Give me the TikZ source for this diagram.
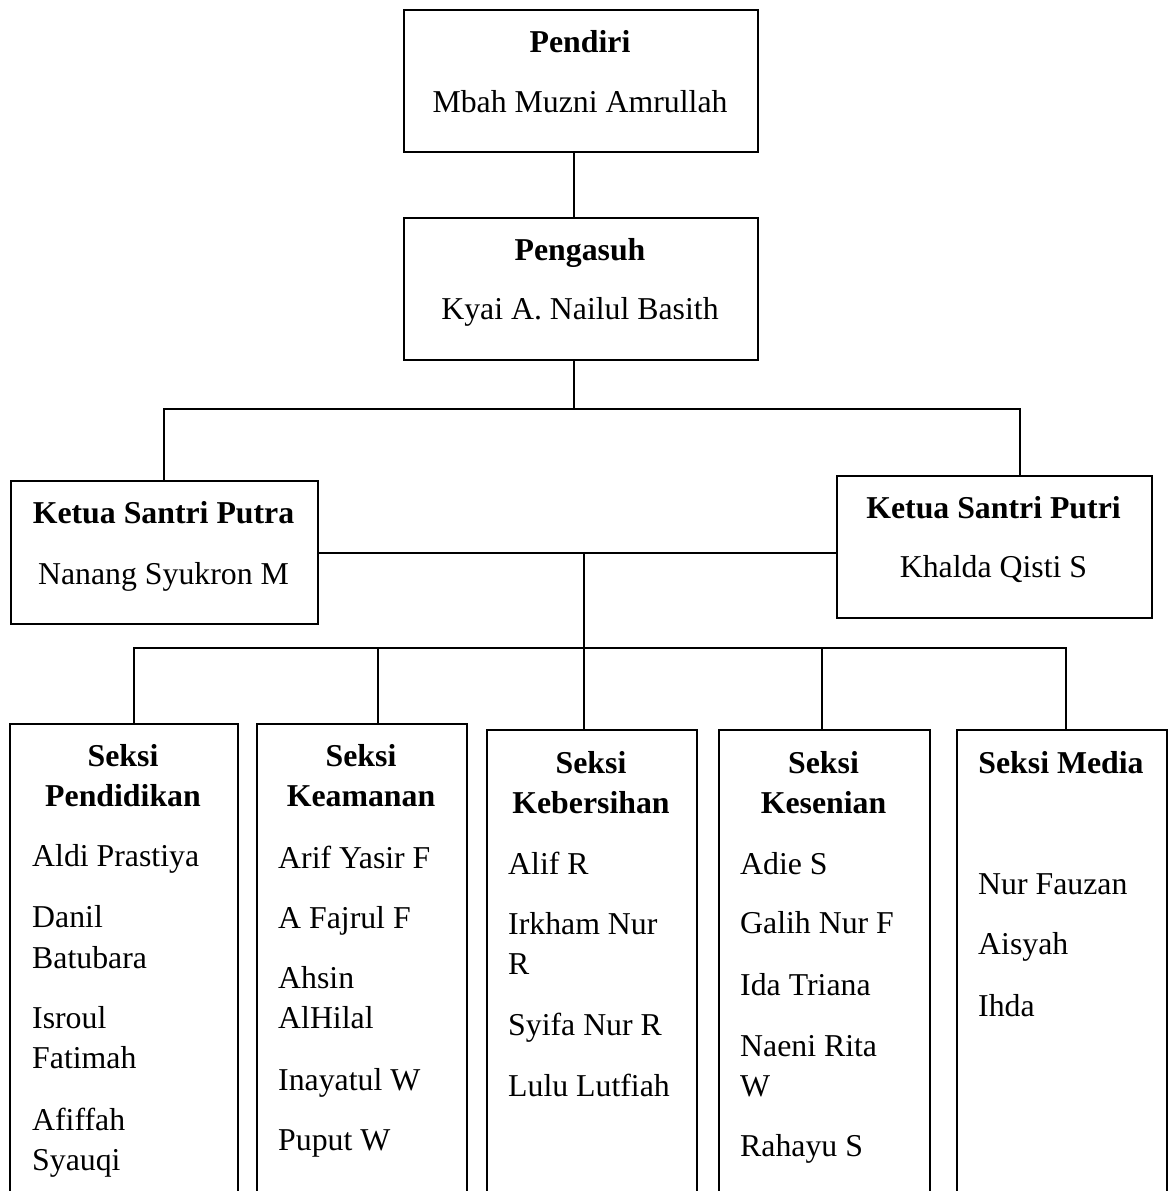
\documentclass[tikz,border=0pt]{standalone}
\usepackage{fontspec}
\setmainfont{Liberation Serif}
\begin{document}
\begin{tikzpicture}[x=1pt,y=-1pt]
\tikzset{
  box/.style={draw, line width=2.2pt, inner sep=0pt, anchor=north west},
  conn/.style={line width=1.1pt},
  ttl/.style={font=\fontsize{31.8}{38}\selectfont\bfseries, anchor=base, inner sep=0pt, yshift=-3pt},
  nmc/.style={font=\fontsize{31.8}{38}\selectfont, anchor=base, inner sep=0pt, yshift=-2pt},
  nm/.style={font=\fontsize{31.8}{38}\selectfont, anchor=base west, inner sep=0pt, yshift=-3pt}
}
\useasboundingbox (0,0) rectangle (1168,1191);
\clip (0,0) rectangle (1168,1191);

% boxes
\node[box, minimum width=354pt, minimum height=142pt] (pendiri) at (403,9) {};
\node[box, minimum width=354pt, minimum height=142pt] (pengasuh) at (403,217) {};
\node[box, minimum width=307pt, minimum height=143pt] (putra) at (10,480) {};
\node[box, minimum width=315pt, minimum height=142pt] (putri) at (836,475) {};
\node[box, minimum width=228pt, minimum height=520pt] (b1) at (9,723) {};
\node[box, minimum width=210pt, minimum height=520pt] (b2) at (256,723) {};
\node[box, minimum width=210pt, minimum height=520pt] (b3) at (486,729) {};
\node[box, minimum width=211pt, minimum height=520pt] (b4) at (718,729) {};
\node[box, minimum width=210pt, minimum height=520pt] (b5) at (956,729) {};

% junctions
\coordinate (j0) at (574,409);
\coordinate (jl) at (164,409);
\coordinate (jr) at (1020,409);
\coordinate (m) at (584,553);
\coordinate (l1) at (134,648);
\coordinate (l2) at (378,648);
\coordinate (l3) at (584,648);
\coordinate (l4) at (822,648);
\coordinate (l5) at (1066,648);

% connectors
\draw[conn] (j0 |- pendiri.south) -- (j0 |- pengasuh.north);
\draw[conn] (j0 |- pengasuh.south) -- (j0);
\draw[conn] (jl |- putra.north) -- (jl) -- (jr) -- (jr |- putri.north);
\draw[conn] (putra.east |- m) -- (putri.west |- m);
\draw[conn] (m) -- (m |- b3.north);
\draw[conn] (l1 |- b1.north) -- (l1) -- (l5) -- (l5 |- b5.north);
\draw[conn] (l2) -- (l2 |- b2.north);
\draw[conn] (l4) -- (l4 |- b4.north);

% top texts
\node[ttl] (t-pendiri) at (580,49) {Pendiri};
\node[nmc] (n-pendiri) at (580,110) {Mbah Muzni Amrullah};
\node[ttl] (t-pengasuh) at (580,257) {Pengasuh};
\node[nmc] (n-pengasuh) at (580,317) {Kyai A. Nailul Basith};
\node[ttl] (t-putra) at (163.5,520) {Ketua Santri Putra};
\node[nmc] (n-putra) at (163.5,582) {Nanang Syukron M};
\node[ttl] (t-putri) at (993.5,515) {Ketua Santri Putri};
\node[nmc] (n-putri) at (993.5,575) {Khalda Qisti S};

% section titles
\node[ttl] (t1a) at (123,763) {Seksi};
\node[ttl] (t1b) at (123,803) {Pendidikan};
\node[ttl] (t2a) at (361,763) {Seksi};
\node[ttl] (t2b) at (361,803) {Keamanan};
\node[ttl] (t3a) at (591,770) {Seksi};
\node[ttl] (t3b) at (591,810) {Kebersihan};
\node[ttl] (t4a) at (823.5,770) {Seksi};
\node[ttl] (t4b) at (823.5,810) {Kesenian};
\node[ttl] (t5a) at (1061,770) {Seksi Media};

% members
\foreach \t/\y [count=\i] in {Aldi Prastiya/863, Danil/924, Batubara/965, Isroul/1025, Fatimah/1065, Afiffah/1127, Syauqi/1167}
  \node[nm] (p1-\i) at (32,\y) {\t};
\foreach \t/\y [count=\i] in {Arif Yasir F/865, A Fajrul F/925, Ahsin/985, AlHilal/1025, Inayatul W/1087, Puput W/1147}
  \node[nm] (p2-\i) at (278,\y) {\t};
\foreach \t/\y [count=\i] in {Alif R/871, Irkham Nur/931, R/971, Syifa Nur R/1032, Lulu Lutfiah/1093}
  \node[nm] (p3-\i) at (508,\y) {\t};
\foreach \t/\y [count=\i] in {Adie S/871, Galih Nur F/930, Ida Triana/992, Naeni Rita/1053, W/1093, Rahayu S/1153}
  \node[nm] (p4-\i) at (740,\y) {\t};
\foreach \t/\y [count=\i] in {Nur Fauzan/891, Aisyah/951, Ihda/1013}
  \node[nm] (p5-\i) at (978,\y) {\t};
\end{tikzpicture}
\end{document}
